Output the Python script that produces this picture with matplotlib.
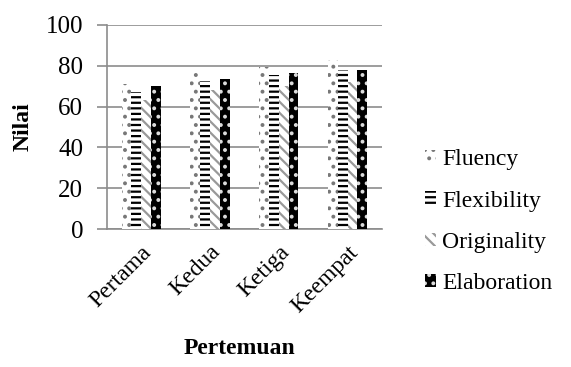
import matplotlib

matplotlib.use("Agg")

import matplotlib.pyplot as plt
import numpy as np

plt.rcParams["font.family"] = ["Liberation Serif", "DejaVu Serif"]
plt.rcParams["hatch.linewidth"] = 1.6

# Scores per meeting (pertemuan)
meetings = ["Pertama", "Kedua", "Ketiga", "Keempat"]
fluency = [71, 78, 79.5, 83]
flexibility = [67, 72.5, 75.5, 78]
originality = [63, 68, 70, 72]
elaboration = [70, 73.5, 76.5, 78]

series = [
    ("Fluency", fluency, dict(facecolor="white", edgecolor="#777777", hatch="..")),
    ("Flexibility", flexibility, dict(facecolor="white", edgecolor="black", hatch="---")),
    ("Originality", originality, dict(facecolor="white", edgecolor="#999999", hatch="\\\\\\")),
    ("Elaboration", elaboration, dict(facecolor="black", edgecolor="#dddddd", hatch="..")),
]

fig = plt.figure(figsize=(5.71, 3.67), dpi=100)
ax = fig.add_axes([0.187, 0.376, 0.482, 0.556])

x = np.arange(len(meetings))
width = 0.142
for i, (name, vals, style) in enumerate(series):
    offs = (i - 1.5) * width
    ax.bar(x + offs, vals, width, linewidth=0, label=name, zorder=3, **style)

ax.set_xlim(-0.5, len(meetings) - 0.5)
ax.set_ylim(0, 100)
ax.set_yticks(np.arange(0, 101, 20))
ax.yaxis.grid(True, color="#8c8c8c", linewidth=1.2, zorder=0)
ax.set_axisbelow(True)

for side in ("top", "right"):
    ax.spines[side].set_visible(False)
for side in ("left", "bottom"):
    ax.spines[side].set_color("#8c8c8c")
    ax.spines[side].set_linewidth(1.2)

ax.tick_params(axis="y", length=7, width=1.2, color="#8c8c8c", labelsize=18, pad=10)
ax.tick_params(axis="x", length=0, labelsize=17, pad=9)
ax.set_xticks(x)
ax.set_xticklabels(meetings, rotation=45, ha="right", rotation_mode="anchor")

ax.set_ylabel("Nilai", fontsize=17, fontweight="bold", labelpad=9)
fig.text(0.42, 0.035, "Pertemuan", fontsize=17, fontweight="bold", ha="center")

fig.legend(
    loc="center left", bbox_to_anchor=(0.723, 0.396), frameon=False,
    fontsize=17, handlelength=0.5, handleheight=0.5, handletextpad=0.25,
    labelspacing=0.86, borderpad=0,
)

fig.savefig("out.png", dpi=100)
